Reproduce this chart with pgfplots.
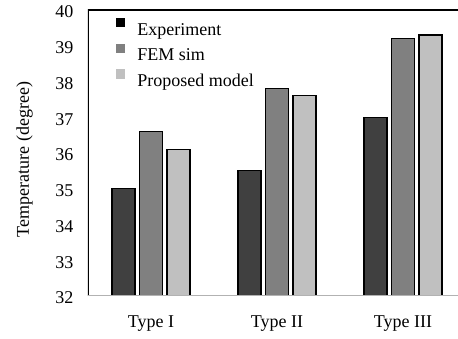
\documentclass[border=0pt]{standalone}
\usepackage{fontspec}
\setmainfont{Liberation Serif}
\usepackage{pgfplots}
\pgfplotsset{compat=1.18}
\definecolor{cExp}{HTML}{404040}
\definecolor{cFem}{HTML}{808080}
\definecolor{cProp}{HTML}{C0C0C0}
\begin{document}
\fontsize{18pt}{21pt}\selectfont
\begin{tikzpicture}
\begin{axis}[
  name=ax,
  scale only axis,
  width=370pt, height=286pt,
  xmin=-0.5, xmax=2.4365,
  ymin=32, ymax=40,
  ytick={32,33,...,40},
  xtick={0,1,2},
  xticklabels={Type I, Type II, Type III},
  major tick length=0pt,
  axis line style={draw=none},
  /pgf/number format/assume math mode=true,
  tick label style={font=\fontsize{18pt}{21pt}\selectfont},
  yticklabel style={anchor=east, xshift=-8.5pt, yshift=-2pt},
  xticklabel style={anchor=base, yshift=-32pt},
  ylabel={Temperature (degree)},
  label style={font=\fontsize{19pt}{22pt}\selectfont},
  every axis y label/.style={at={(rel axis cs:0,0.477)}, xshift=-63.5pt, rotate=90, anchor=center},
  ybar=4.5pt,
  bar width=23pt,
  legend cell align=left,
  legend style={at={(rel axis cs:0,1)}, anchor=north west, xshift=28pt, yshift=-8pt,
    draw=none, fill=none, inner sep=0pt, row sep=2.5pt,
    font=\fontsize{18pt}{21pt}\selectfont,
    nodes={inner sep=2pt, text height=13pt, text depth=4pt}},
]
\addplot[draw=black, line width=1.2pt, fill=cExp,
  legend image code/.code={\fill[black] (0pt,4pt) rectangle (8pt,12pt); \path (18pt,0pt);}]
  coordinates {(0,35.0) (1,35.5) (2,37.0)};
\addplot[draw=black, line width=1.2pt, fill=cFem,
  legend image code/.code={\fill[cFem] (0pt,4pt) rectangle (8pt,12pt); \path (18pt,0pt);}]
  coordinates {(0,36.6) (1,37.8) (2,39.2)};
\addplot[draw=black, line width=1.2pt, fill=cProp,
  legend image code/.code={\fill[cProp] (0pt,4pt) rectangle (8pt,12pt); \path (18pt,0pt);}]
  coordinates {(0,36.1) (1,37.6) (2,39.3)};
\legend{Experiment, FEM sim, Proposed model}
\draw[black, line width=1.2pt] (rel axis cs:0,0) -- (rel axis cs:0,1) -- (rel axis cs:1,1);
\draw[black!30, line width=1.5pt] (rel axis cs:0,0) -- (rel axis cs:1,0);
\end{axis}
\pgfresetboundingbox
\path[use as bounding box] ([shift={(-88pt,-43pt)}]ax.south west) rectangle ([shift={(0pt,10pt)}]ax.north east);
\end{tikzpicture}
\end{document}
